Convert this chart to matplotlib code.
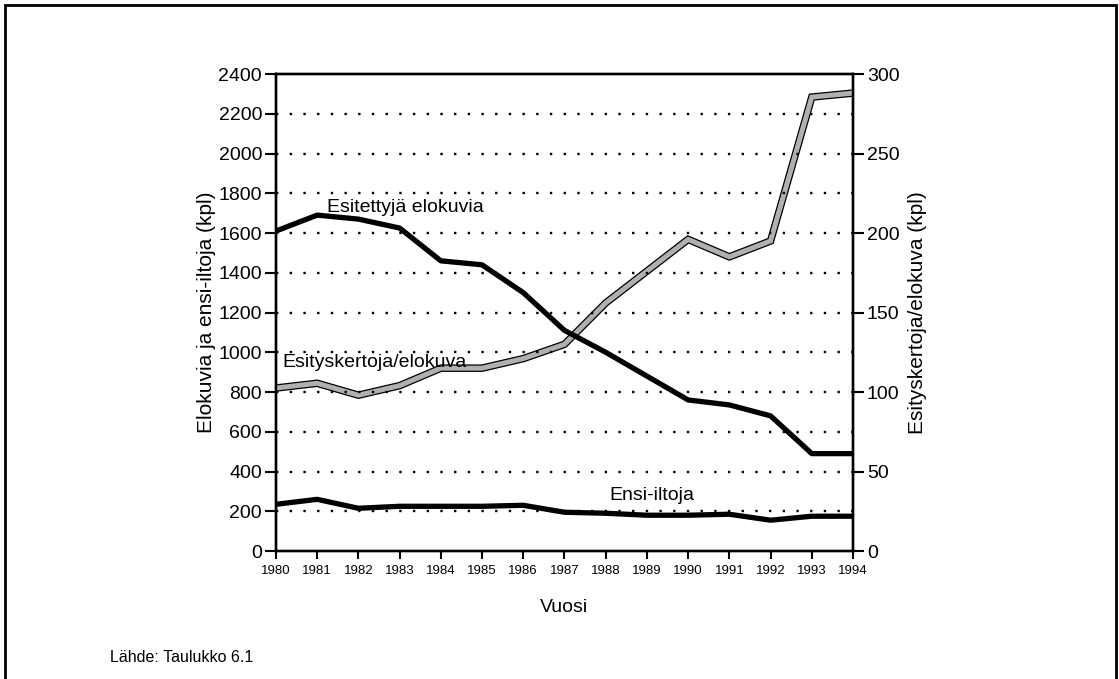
import matplotlib
matplotlib.use("Agg")
import matplotlib.pyplot as plt
from matplotlib.patches import Rectangle

plt.rcParams["font.family"] = ["Liberation Sans", "DejaVu Sans"]

years = list(range(1980, 1995))
# Esitettyjä elokuvia (kpl), vasen akseli
films = [1610, 1690, 1670, 1625, 1460, 1440, 1300, 1110, 1000, 880, 760, 735, 680, 490, 490]
# Ensi-iltoja (kpl), vasen akseli
premieres = [235, 260, 215, 225, 225, 225, 230, 195, 190, 180, 180, 185, 155, 175, 175]
# Esityskertoja/elokuva (kpl), oikea akseli
shows_per_film = [102.5, 105.5, 98, 104, 115, 115, 121, 130, 156, 176, 196, 185, 195, 285.5, 288]

left_ticks = list(range(0, 2401, 200))
right_ticks = [0, 50, 100, 150, 200, 250, 300]

fig = plt.figure(figsize=(11.19, 6.79), dpi=100)
ax = fig.add_axes([0.2466, 0.1885, 0.5157, 0.7025])
ax2 = ax.twinx()

# harmaa viiva mustalla reunalla
ax2.plot(years, shows_per_film, color="black", lw=5.4, solid_joinstyle="miter", zorder=2)
ax2.plot(years, shows_per_film, color="#b0b0b0", lw=3.6, solid_joinstyle="miter", zorder=3)

ax.plot(years, films, color="black", lw=3.8, zorder=4)
ax.plot(years, premieres, color="black", lw=3.8, zorder=4)

ax.set_zorder(ax2.get_zorder() + 1)
ax.patch.set_visible(False)

ax.set_xlim(1980, 1994)
ax.set_ylim(0, 2400)
ax2.set_ylim(0, 300)
ax.set_xticks(years)
ax.set_xticklabels([str(y) for y in years], fontsize=9.5)
ax.set_yticks(left_ticks)
ax.set_yticklabels([str(t) for t in left_ticks], fontsize=14)
ax2.set_yticks(right_ticks)
ax2.set_yticklabels([str(t) for t in right_ticks], fontsize=14)

for t in left_ticks[1:-1]:
    ax.axhline(t, color="black", lw=1.7, linestyle=(0, (1, 4.8)), zorder=1)

for a in (ax, ax2):
    for s in a.spines.values():
        s.set_linewidth(1.7)
ax.tick_params(axis="y", direction="out", length=8, width=1.5, pad=2)
ax.tick_params(axis="x", direction="out", length=6, width=1.5, pad=4)
ax2.tick_params(axis="y", direction="out", length=8, width=1.5, pad=2)

ax.set_ylabel("Elokuvia ja ensi-iltoja (kpl)", fontsize=15, labelpad=2)
ax2.set_ylabel("Esityskertoja/elokuva (kpl)", fontsize=15, labelpad=6)
ax.set_xlabel("Vuosi", fontsize=14, labelpad=16)

ax.text(1981.24, 1706, "Esitettyjä elokuvia", fontsize=14)
ax.text(1980.15, 926, "Esityskertoja/elokuva", fontsize=14)
ax.text(1988.1, 257, "Ensi-iltoja", fontsize=14)

fig.text(110 / 1119, 1 - 662 / 679, "Lähde: Taulukko 6.1", fontsize=11.5)

fig.patches.append(Rectangle((5 / 1119, -0.05), 1111 / 1119, 1.05 - 5 / 679,
                             transform=fig.transFigure, fill=False,
                             edgecolor="black", lw=2))

fig.savefig("out.png", dpi=100)
